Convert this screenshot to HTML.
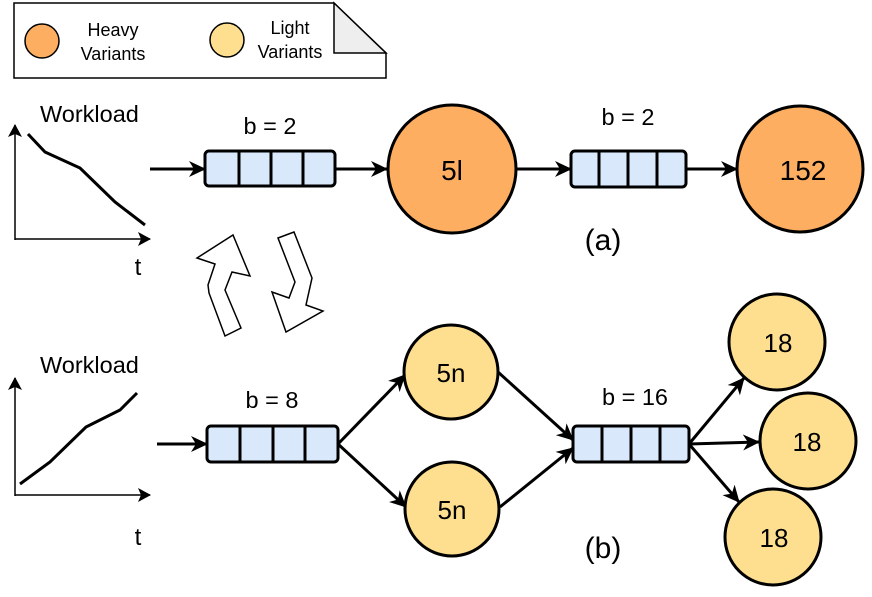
<!DOCTYPE html>
<html><head><meta charset="utf-8"><style>
html,body{margin:0;padding:0;background:#fff}
svg{display:block}
text{font-family:"Liberation Sans",Arial,sans-serif;fill:#000}
</style></head><body>
<svg width="872" height="597" viewBox="0 0 872 597" xmlns="http://www.w3.org/2000/svg">
<defs>
<marker id="ah2" markerWidth="18" markerHeight="16" refX="16" refY="8" orient="auto" markerUnits="userSpaceOnUse">
<path d="M0,0 L17,8 L0,16 L5,8 Z" fill="#000"/>
</marker>
<marker id="ah3" markerWidth="14" markerHeight="14" refX="12" refY="7" orient="auto" markerUnits="userSpaceOnUse">
<path d="M0,0 L13,7 L0,14 L3,7 Z" fill="#000"/>
</marker>
</defs>

<!-- legend -->
<path d="M14,3 L334,3 L386,53 L386,78 L14,78 Z" fill="#fff" stroke="#000" stroke-width="1.5"/>
<path d="M334,3 L386,53 L334,53 Z" fill="#eee" stroke="#000" stroke-width="1.5"/>
<circle cx="42" cy="41" r="17" fill="#fdae61" stroke="#000" stroke-width="1.5"/>
<circle cx="227" cy="40" r="17" fill="#fddf8f" stroke="#000" stroke-width="1.5"/>
<text x="113" y="36" font-size="18" text-anchor="middle">Heavy</text>
<text x="113" y="60" font-size="18" text-anchor="middle">Variants</text>
<text x="290" y="34" font-size="18" text-anchor="middle">Light</text>
<text x="290" y="58" font-size="18" text-anchor="middle">Variants</text>

<!-- chart a -->
<text x="40" y="122" font-size="23.5">Workload</text>
<line x1="15" y1="240" x2="15" y2="125" stroke="#000" stroke-width="1.5" marker-end="url(#ah3)"/>
<line x1="15" y1="239" x2="150" y2="239" stroke="#000" stroke-width="1.5" marker-end="url(#ah3)"/>
<polyline points="28,134 45,152 80,168 115,202 145,225" fill="none" stroke="#000" stroke-width="3"/>
<text x="138" y="275" font-size="24" text-anchor="middle">t</text>

<!-- chart b -->
<text x="40" y="373" font-size="23.5">Workload</text>
<line x1="15" y1="496" x2="15" y2="378" stroke="#000" stroke-width="1.5" marker-end="url(#ah3)"/>
<line x1="15" y1="495" x2="150" y2="495" stroke="#000" stroke-width="1.5" marker-end="url(#ah3)"/>
<polyline points="20,484 50,462 86,427 120,410 137,393" fill="none" stroke="#000" stroke-width="3"/>
<text x="138" y="545" font-size="24" text-anchor="middle">t</text>

<!-- swap arrows -->
<polygon points="225,336 241,328 225,290 232,272 250,276 233,235 197,258 215,264 208,285 209,293" fill="#fff" stroke="#000" stroke-width="1.5"/>
<polygon points="278,238 294,232 312,278 306,305 323,311 286,332 272,292 289,298 295,282" fill="#fff" stroke="#000" stroke-width="1.5"/>

<!-- row a -->
<g stroke="#000" stroke-width="3" fill="none">
<line x1="150" y1="169" x2="205" y2="169" marker-end="url(#ah2)"/>
<line x1="335" y1="169" x2="387" y2="169" marker-end="url(#ah2)"/>
<line x1="516" y1="169" x2="571" y2="169" marker-end="url(#ah2)"/>
<line x1="686" y1="169" x2="737" y2="169" marker-end="url(#ah2)"/>
</g>
<g stroke="#000" stroke-width="3">
<rect x="205" y="151" width="130" height="35" rx="4" fill="#dae8fc"/>
<line x1="239" y1="151" x2="239" y2="186"/><line x1="271" y1="151" x2="271" y2="186"/><line x1="303" y1="151" x2="303" y2="186"/>
<rect x="571" y="151" width="115" height="36" rx="4" fill="#dae8fc"/>
<line x1="599" y1="151" x2="599" y2="187"/><line x1="628" y1="151" x2="628" y2="187"/><line x1="657" y1="151" x2="657" y2="187"/>
<circle cx="452" cy="169" r="64" fill="#fdae61"/>
<circle cx="800" cy="169" r="63" fill="#fdae61"/>
</g>
<text x="270" y="134" font-size="23.5" text-anchor="middle">b = 2</text>
<text x="628" y="125" font-size="23.5" text-anchor="middle">b = 2</text>
<text x="452" y="180" font-size="28" text-anchor="middle">5l</text>
<text x="803" y="180" font-size="28" text-anchor="middle">152</text>
<text x="603" y="250" font-size="30" text-anchor="middle">(a)</text>

<!-- row b -->
<g stroke="#000" stroke-width="3" fill="none">
<line x1="157" y1="444" x2="207" y2="444" marker-end="url(#ah2)"/>
<line x1="338" y1="444" x2="405" y2="375" marker-end="url(#ah2)"/>
<line x1="338" y1="444" x2="406" y2="507" marker-end="url(#ah2)"/>
<line x1="498" y1="372" x2="573" y2="440" marker-end="url(#ah2)"/>
<line x1="500" y1="507" x2="573" y2="448" marker-end="url(#ah2)"/>
<line x1="689" y1="444" x2="744" y2="378" marker-end="url(#ah2)"/>
<line x1="689" y1="444" x2="759" y2="442" marker-end="url(#ah2)"/>
<line x1="689" y1="444" x2="739" y2="502" marker-end="url(#ah2)"/>
</g>
<g stroke="#000" stroke-width="3">
<rect x="207" y="426" width="131" height="36" rx="4" fill="#dae8fc"/>
<line x1="240" y1="426" x2="240" y2="462"/><line x1="273" y1="426" x2="273" y2="462"/><line x1="305" y1="426" x2="305" y2="462"/>
<rect x="573" y="426" width="116" height="36" rx="4" fill="#dae8fc"/>
<line x1="602" y1="426" x2="602" y2="462"/><line x1="631" y1="426" x2="631" y2="462"/><line x1="660" y1="426" x2="660" y2="462"/>
<circle cx="451" cy="372" r="47" fill="#fddf8f"/>
<circle cx="452" cy="509" r="47" fill="#fddf8f"/>
<circle cx="777" cy="342" r="48" fill="#fddf8f"/>
<circle cx="808" cy="441" r="48" fill="#fddf8f"/>
<circle cx="773" cy="537" r="48" fill="#fddf8f"/>
</g>
<text x="272" y="408" font-size="23.5" text-anchor="middle">b = 8</text>
<text x="635" y="405" font-size="23.5" text-anchor="middle">b = 16</text>
<text x="451" y="382" font-size="26" text-anchor="middle">5n</text>
<text x="452" y="519" font-size="26" text-anchor="middle">5n</text>
<text x="778" y="352" font-size="26" text-anchor="middle">18</text>
<text x="807" y="451" font-size="26" text-anchor="middle">18</text>
<text x="774" y="547" font-size="26" text-anchor="middle">18</text>
<text x="603" y="558" font-size="30" text-anchor="middle">(b)</text>
</svg>
</body></html>
